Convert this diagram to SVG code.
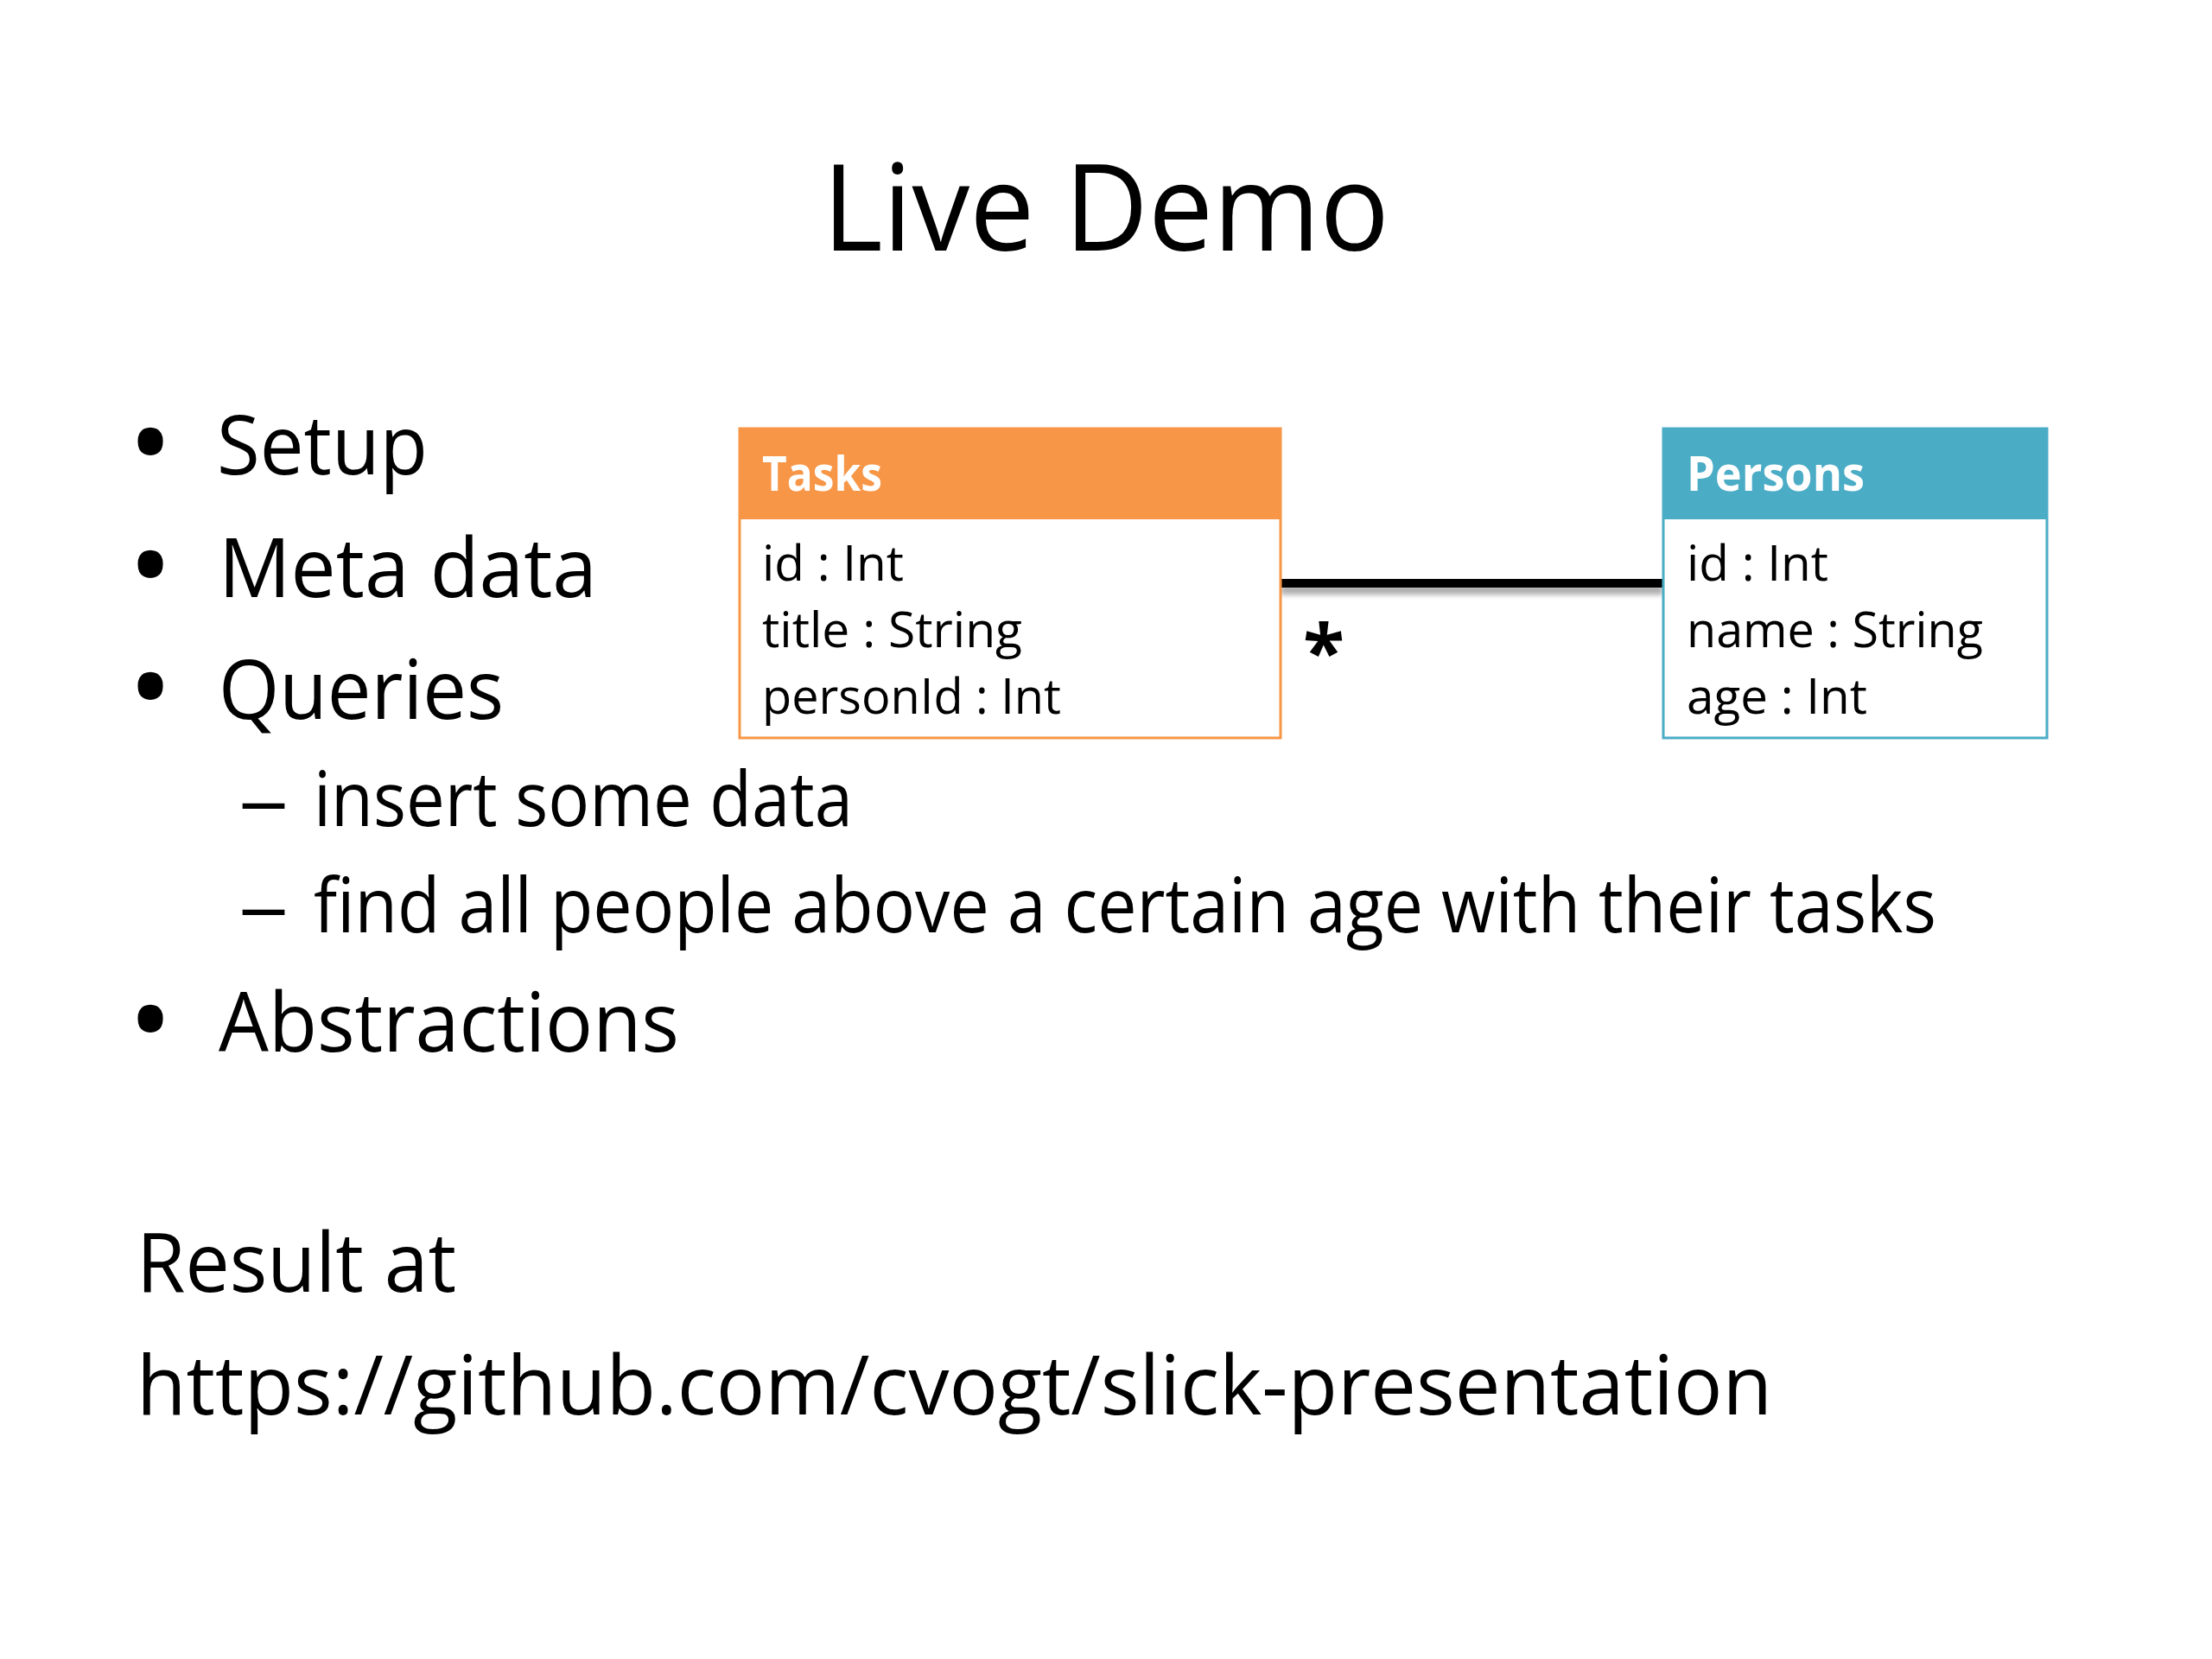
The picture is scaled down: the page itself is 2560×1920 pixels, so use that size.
<svg xmlns="http://www.w3.org/2000/svg" width="2560" height="1920" viewBox="0 0 2560 1920">
<defs>
<style>
text{font-family:"Open Sans","Noto Sans","Liberation Sans",sans-serif;fill:#000}
.title{font-size:140px}
.b{font-size:96px}
.dot{font-size:104px;font-weight:bold}
.s{font-size:88px}
.f{font-size:56px}
.h{font-size:56px;font-weight:bold;fill:#fff}
</style>
<filter id="blur" filterUnits="userSpaceOnUse" x="1460" y="640" width="500" height="80">
<feGaussianBlur stdDeviation="3"/>
</filter>
</defs>
<rect width="2560" height="1920" fill="#fff"/>
<text class="title" x="952" y="290" textLength="656" lengthAdjust="spacingAndGlyphs">Live Demo</text>
<g id="bullets">
<text class="dot" x="174" y="549" text-anchor="middle">•</text>
<text class="b" x="251" y="549" textLength="244" lengthAdjust="spacingAndGlyphs">Setup</text>
<text class="dot" x="174" y="691" text-anchor="middle">•</text>
<text class="b" x="253" y="691" textLength="438" lengthAdjust="spacingAndGlyphs">Meta data</text>
<text class="dot" x="174" y="832" text-anchor="middle">•</text>
<text class="b" x="253" y="832" textLength="330" lengthAdjust="spacingAndGlyphs">Queries</text>
<text class="s" x="276" y="956" textLength="58" lengthAdjust="spacingAndGlyphs">–</text>
<text class="s" x="363" y="956" textLength="624" lengthAdjust="spacingAndGlyphs">insert some data</text>
<text class="s" x="276" y="1079" textLength="58" lengthAdjust="spacingAndGlyphs">–</text>
<text class="s" x="363" y="1079" textLength="1878" lengthAdjust="spacingAndGlyphs">find all people above a certain age with their tasks</text>
<text class="dot" x="174" y="1217" text-anchor="middle">•</text>
<text class="b" x="253" y="1217" textLength="533" lengthAdjust="spacingAndGlyphs">Abstractions</text>
<text class="b" x="158" y="1495" textLength="370" lengthAdjust="spacingAndGlyphs">Result at</text>
<text class="b" x="158" y="1637" textLength="1893" lengthAdjust="spacingAndGlyphs">https://github.com/cvogt/slick-presentation</text>
</g>
<g id="connectors">
<line x1="1482" y1="683" x2="1925" y2="683" stroke="#000" stroke-opacity="0.35" stroke-width="10" filter="url(#blur)"/>
<line x1="1482" y1="675" x2="1925" y2="675" stroke="#000" stroke-width="10"/>
<text x="1532" y="786" font-size="88" font-weight="bold" text-anchor="middle">*</text>
</g>
<g id="tasks">
<rect x="856" y="496" width="626" height="358" fill="#fff" stroke="#F79646" stroke-width="3"/>
<rect x="856" y="496" width="626" height="105" fill="#F79646"/>
<text class="h" x="882" y="568" textLength="139" lengthAdjust="spacingAndGlyphs">Tasks</text>
<text class="f" x="882" y="672" textLength="164" lengthAdjust="spacingAndGlyphs">id : Int</text>
<text class="f" x="882" y="749" textLength="301" lengthAdjust="spacingAndGlyphs">title : String</text>
<text class="f" x="882" y="826" textLength="346" lengthAdjust="spacingAndGlyphs">personId : Int</text>
</g>
<g id="persons">
<rect x="1925" y="496" width="444" height="358" fill="#fff" stroke="#4BACC6" stroke-width="3"/>
<rect x="1925" y="496" width="444" height="105" fill="#4BACC6"/>
<text class="h" x="1952" y="568" textLength="206" lengthAdjust="spacingAndGlyphs">Persons</text>
<text class="f" x="1952" y="672" textLength="164" lengthAdjust="spacingAndGlyphs">id : Int</text>
<text class="f" x="1952" y="749" textLength="343" lengthAdjust="spacingAndGlyphs">name : String</text>
<text class="f" x="1952" y="826" textLength="209" lengthAdjust="spacingAndGlyphs">age : Int</text>
</g>
</svg>
